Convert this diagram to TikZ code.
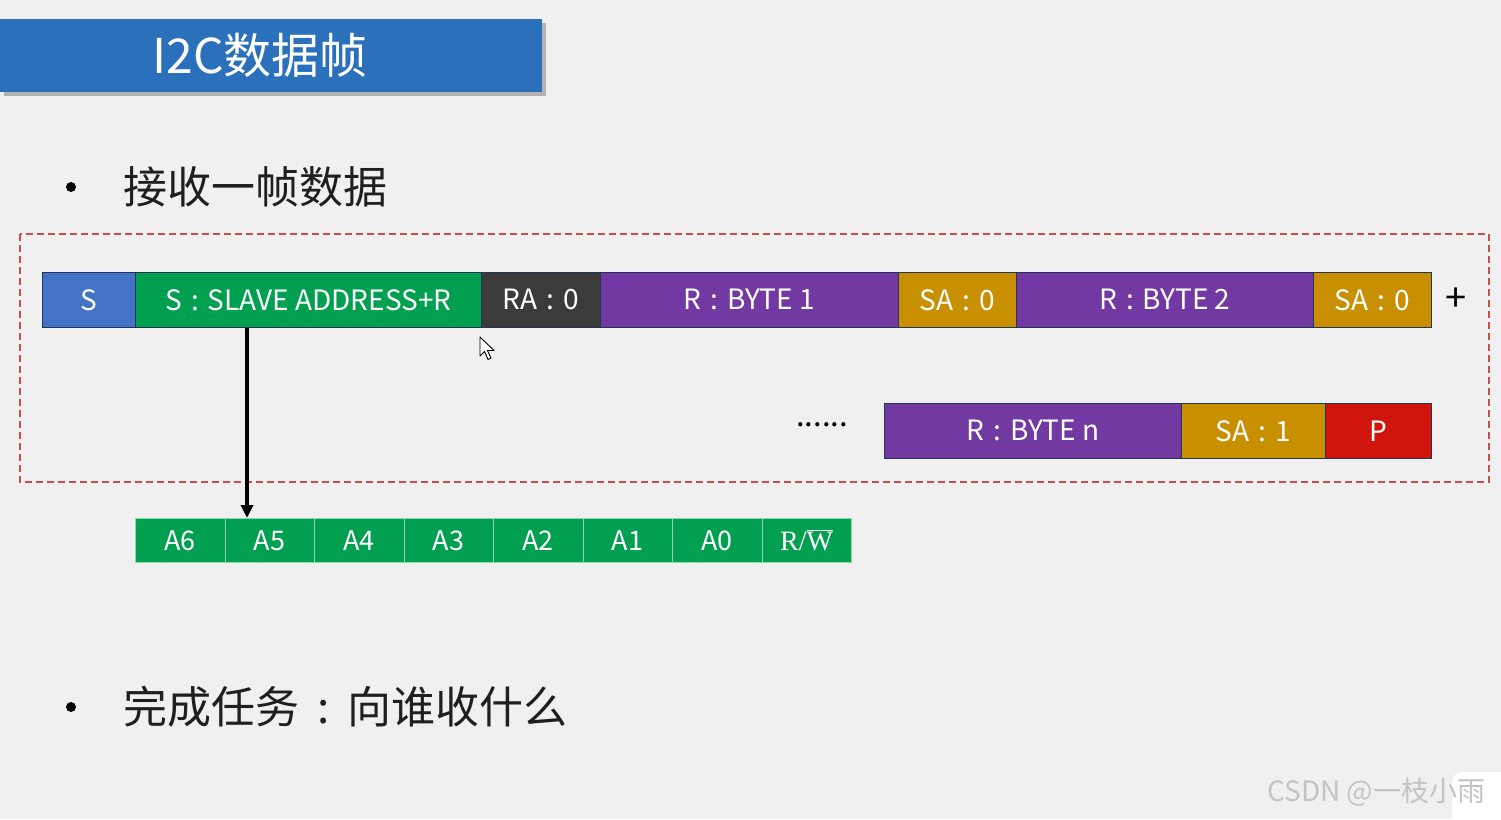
\documentclass[tikz,border=0pt]{standalone}
\usepackage[no-math]{fontspec}
\setmainfont{Noto Sans CJK SC}
\newfontfamily\tnr{Liberation Serif}
\usetikzlibrary{arrows.meta}
\definecolor{bgc}{HTML}{F0F0F0}
\definecolor{titleblue}{HTML}{2A70BA}
\definecolor{sblue}{HTML}{4472C4}
\definecolor{sgreen}{HTML}{00A050}
\definecolor{sdark}{HTML}{3B3B3B}
\definecolor{spurple}{HTML}{7239A3}
\definecolor{sgold}{HTML}{C89000}
\definecolor{sred}{HTML}{D0160C}
\definecolor{segborder}{HTML}{22365A}
\definecolor{dashred}{HTML}{C8504A}
\definecolor{celledge}{HTML}{8FD8AE}
\definecolor{wmgray}{HTML}{C4C4C4}
\newcommand{\cl}{\hspace{0.32em}:\hspace{0.32em}}
\tikzset{
  seg/.style={draw=segborder, line width=0.8pt, minimum height=55pt, inner sep=0pt,
    text=white, font=\fontsize{28}{32}\selectfont, anchor=north west},
  cell/.style={draw=celledge, line width=0.8pt, fill=sgreen, minimum height=44pt,
    minimum width=89.5pt, inner sep=0pt, text=white, font=\fontsize{27}{32}\selectfont, anchor=north west},
  bullettext/.style={anchor=west, inner sep=0pt, text=black!88, font=\fontsize{44}{50}\selectfont},
  arr/.style={line width=3.2pt, -{Triangle[length=13pt,width=12pt]}}
}
\begin{document}
\begin{tikzpicture}[x=1pt,y=-1pt]
\useasboundingbox (0,0) rectangle (1501,819);
\fill[bgc] (0,0) rectangle (1501,819);
% title
\fill[black!30] (4,23) rectangle (546,96);
\fill[titleblue] (0,19) rectangle (542,92);
\node[text=white, font=\fontsize{48}{54}\selectfont, inner sep=0pt] (title) at (260,55) {I2C数据帧};
% bullet 1
\fill[black] (71,187) circle (5);
\node[bullettext] (b1) at (123,187) {接收一帧数据};
% dashed frame
\draw[dashred, line width=1.3pt, dash pattern=on 7pt off 4pt] (20,234) rectangle (1489,482);
% top row
\node[seg, fill=sblue, minimum width=93pt] (s) at (42,272) {S};
\node[seg, fill=sgreen, minimum width=346pt] (sa) at (135,272) {S\cl SLAVE ADDRESS+R};
\node[seg, fill=sdark, minimum width=119pt] (ra) at (481,272) {RA\cl 0};
\node[seg, fill=spurple, minimum width=298pt] (b1x) at (600,272) {R\cl BYTE 1};
\node[seg, fill=sgold, minimum width=118pt] (sa1) at (898,272) {SA\cl 0};
\node[seg, fill=spurple, minimum width=297pt] (b2x) at (1016,272) {R\cl BYTE 2};
\node[seg, fill=sgold, minimum width=118pt] (sa2) at (1313,272) {SA\cl 0};
\node[font=\fontsize{38}{42}\selectfont, inner sep=0pt] (plus) at (1456,300) {+};
% second row
\node[font=\fontsize{31}{34}\selectfont, inner sep=0pt] (dots) at (822,425) {......};
\node[seg, fill=spurple, minimum width=297pt] (bn) at (884,403) {R\cl BYTE n};
\node[seg, fill=sgold, minimum width=144pt] (san) at (1181,403) {SA\cl 1};
\node[seg, fill=sred, minimum width=106pt] (p) at (1325,403) {P};
% address bits
\node[cell] (a6) at (135,518) {A6};
\node[cell] (a5) at (224.5,518) {A5};
\node[cell] (a4) at (314,518) {A4};
\node[cell] (a3) at (403.5,518) {A3};
\node[cell] (a2) at (493,518) {A2};
\node[cell] (a1) at (582.5,518) {A1};
\node[cell] (a0) at (672,518) {A0};
\node[cell, font=\fontsize{28}{32}\tnr] (rw) at (761.5,518) {R/$\overline{\hbox{\tnr W}}$};
% arrow
\draw[arr] ([xshift=112pt]sa.south west) -- ([xshift=22.5pt]a5.north west);
% cursor
\draw[black, fill=white, line width=0.9pt, line join=round]
  (480,337) -- (480,356) -- (484.5,351.5) -- (488,359.5) -- (491,358) -- (487.5,350.5) -- (494,350.5) -- cycle;
% bullet 2
\fill[black] (71,707) circle (5);
\node[bullettext] (b2) at (123,707) {完成任务\makebox[1.1em]{:}向谁收什么};
% watermark
\fill[white, rounded corners=10pt] (1452,772) rectangle (1515,830);
\node[text=wmgray, font=\fontsize{28}{32}\selectfont, anchor=west, inner sep=0pt] (wm) at (1267,792) {CSDN @一枝小雨};
\end{tikzpicture}
\end{document}
